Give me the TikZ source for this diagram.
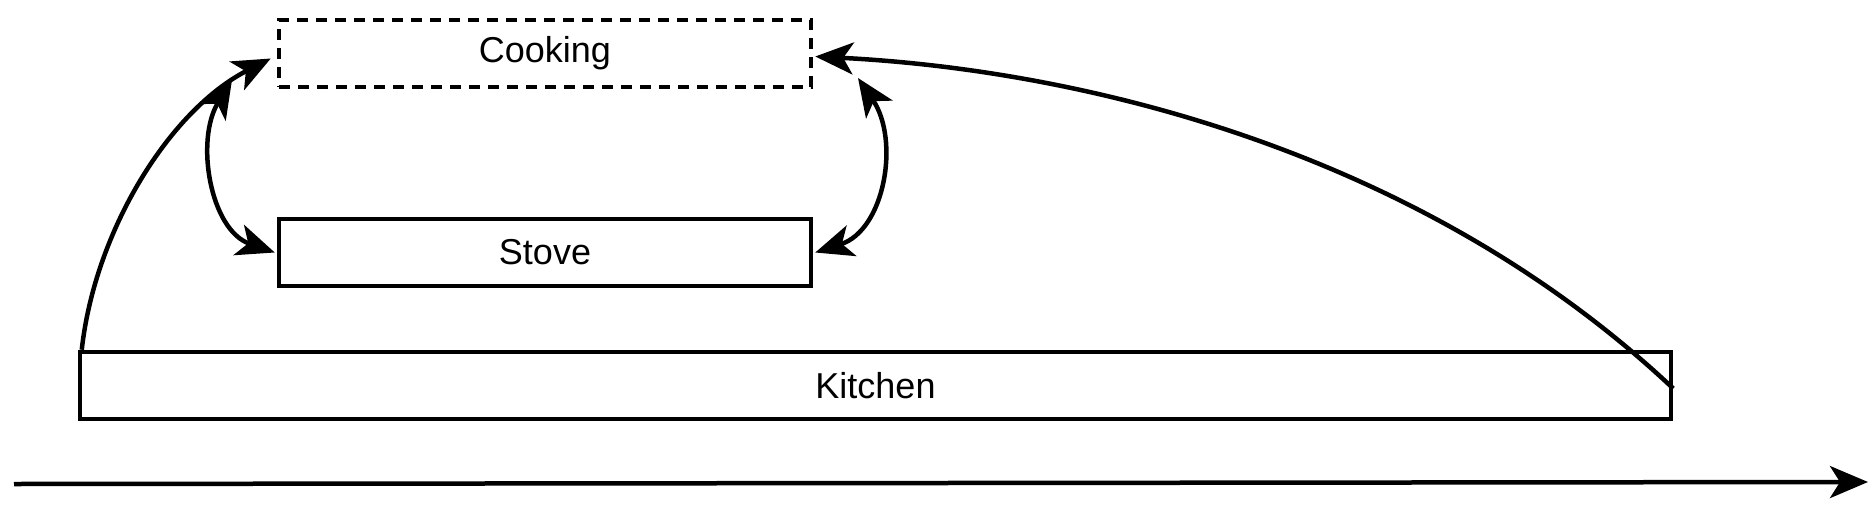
\documentclass[tikz,border=0pt]{standalone}
\usepackage{fontspec}
\setmainfont{Liberation Sans}
\usetikzlibrary{arrows.meta}
\begin{document}
\begin{tikzpicture}[x=1pt,y=-1pt,
  box/.style={draw,line width=4.5pt,minimum height=67pt,inner sep=0pt,font=\fontsize{36}{40}\selectfont},
  tip/.style={Stealth[length=38pt,width=32pt,inset=10pt]},
  conn/.style={line width=4.5pt,-{Stealth[length=38pt,width=32pt,inset=10pt]}},
  conn2/.style={line width=4.5pt,{Stealth[length=38pt,width=32pt,inset=10pt]}-{Stealth[length=38pt,width=32pt,inset=10pt]}}]
\useasboundingbox (0,0) rectangle (1875,520);
\node[box,dashed,dash pattern=on 11pt off 8pt,minimum width=532pt] (cook) at (545,53.5) {Cooking};
\node[box,minimum width=532pt] (stove) at (545,252.5) {Stove};
\node[box,minimum width=1591pt] (kit) at (875.5,385.5) {Kitchen};
\coordinate (a) at (14,484);
\coordinate (b) at (1868,482);
\draw[conn] (a) -- (b);
\draw[conn] ([xshift=4pt]kit.north west) .. controls (95,230) and (170,110) .. ([xshift=-6pt,yshift=-5pt]cook.west);
\draw[conn] ([yshift=-3pt]kit.east) .. controls (1420,150) and (1080,70) .. ([xshift=2pt,yshift=-3pt]cook.east);
\coordinate (lt) at (232,80);
\coordinate (rt) at (858,78);
\draw[conn2] (lt) .. controls (195,140) and (210,230) .. ([xshift=-2pt]stove.west);
\draw[conn2] (rt) .. controls (900,140) and (885,230) .. ([xshift=2pt]stove.east);
\end{tikzpicture}
\end{document}
